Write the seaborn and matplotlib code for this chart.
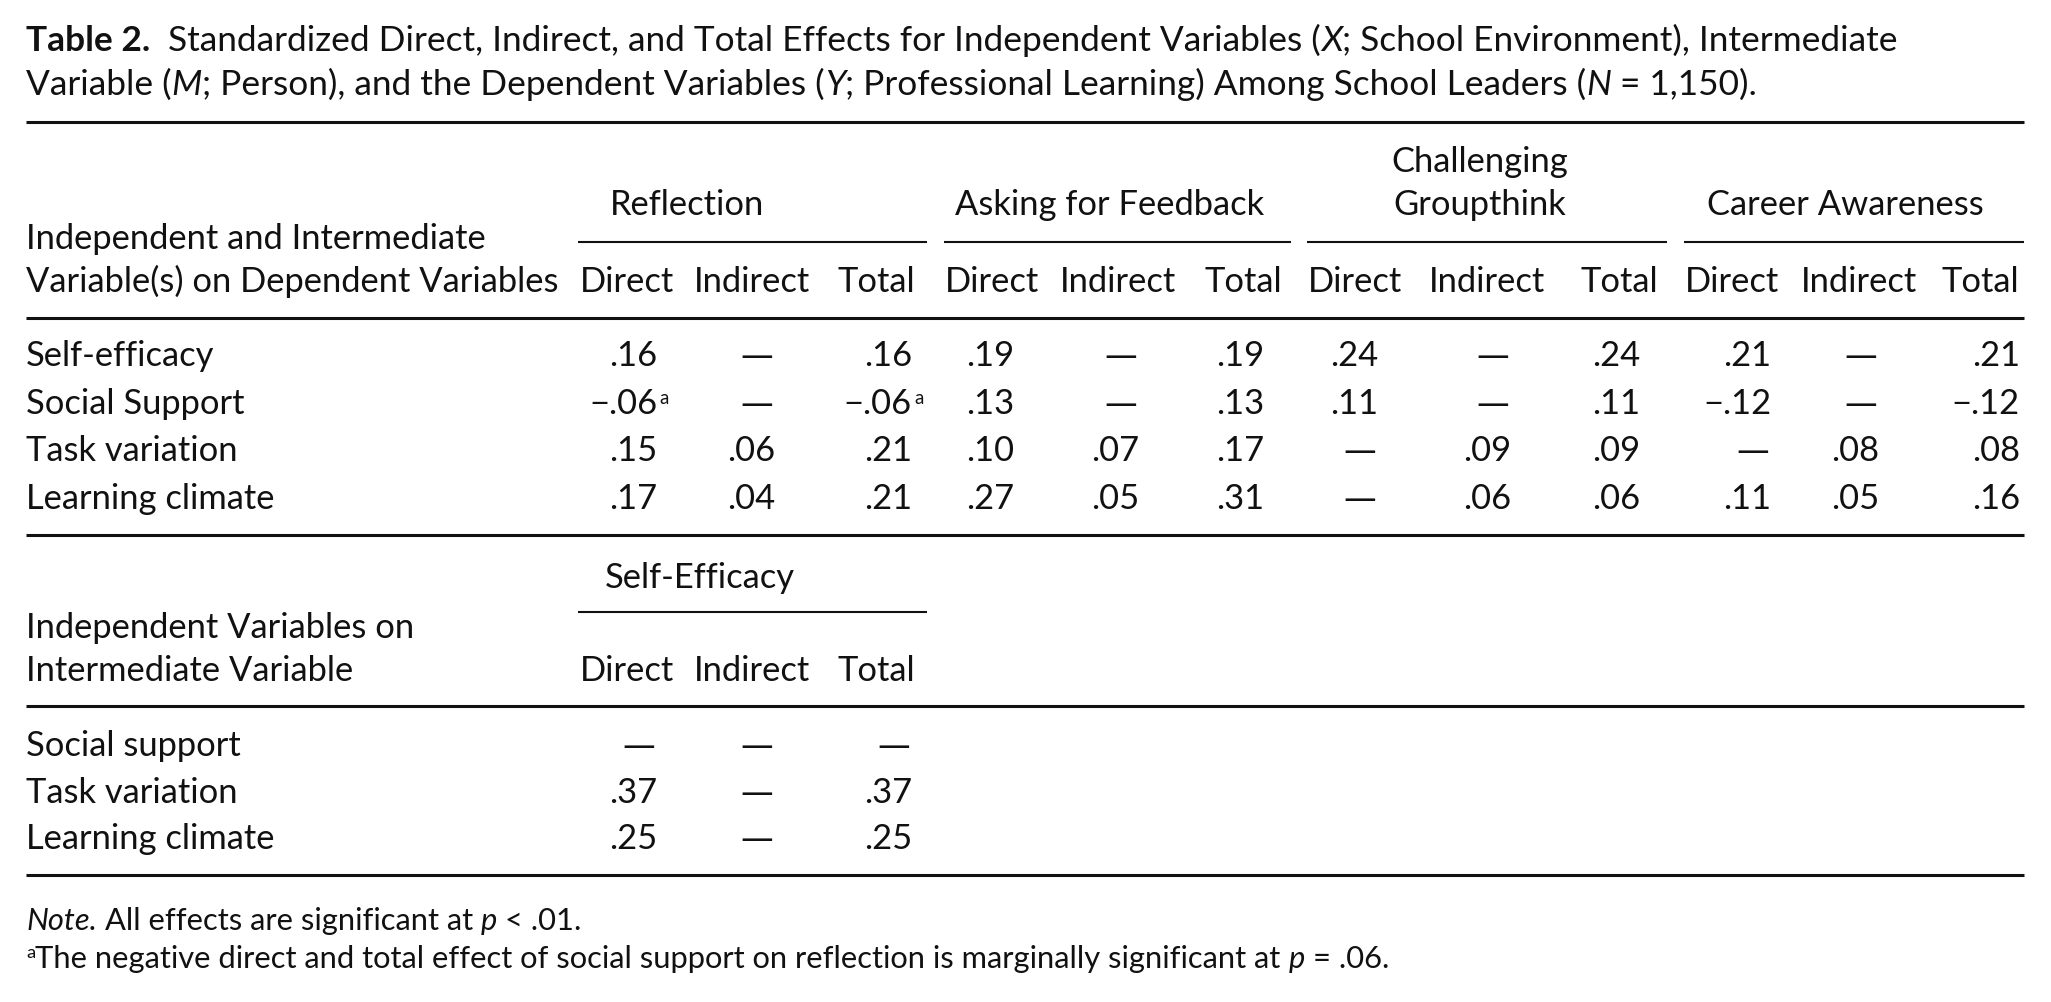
import matplotlib
matplotlib.use("Agg")
import matplotlib.pyplot as plt
import seaborn as sns

# ---- table content -------------------------------------------------------
groups = ["Reflection", "Asking for Feedback", "Challenging\nGroupthink", "Career Awareness"]
effects = ["Direct", "Indirect", "Total"]
row_labels = ["Self-efficacy", "Social Support", "Task variation", "Learning climate"]

reflection_direct = [.16, -.06, .15, .17]
reflection_indirect = [None, None, .06, .04]
reflection_total = [.16, -.06, .21, .21]
feedback_direct = [.19, .13, .10, .27]
feedback_indirect = [None, None, .07, .05]
feedback_total = [.19, .13, .17, .31]
groupthink_direct = [.24, .11, None, None]
groupthink_indirect = [None, None, .09, .06]
groupthink_total = [.24, .11, .09, .06]
career_direct = [.21, -.12, None, .11]
career_indirect = [None, None, .08, .05]
career_total = [.21, -.12, .08, .16]

# cells flagged with footnote a (row, group)
marginal = [("Social Support", "Reflection")]

mediator = "Self-Efficacy"
mediator_rows = ["Social support", "Task variation", "Learning climate"]
selfeff_direct = [None, .37, .25]
selfeff_indirect = [None, None, None]
selfeff_total = [None, .37, .25]

# ---- layout (pixels from top-left) --------------------------------------
W, H = 2051, 1002
LEFT, RIGHT = 26, 2024
INK = "#111111"
FS = 24.8
FS_TITLE = 25.4
FS_NOTE = 22.2

group_span = [(578, 927), (944, 1291), (1307, 1667), (1684, 2024)]
group_center = [687, 1110, 1480, 1845]
head_center = [[627, 752, 876], [992, 1118, 1243], [1355, 1487, 1619], [1732, 1859, 1980]]
value_right = [[657, 775, 912], [1014, 1139, 1264], [1378, 1511, 1640], [1771, 1879, 2020]]
row_base = [366, 414, 461, 509]
med_row_base = [756, 803, 849]

sns.set_theme(style="white")
plt.rcParams["font.family"] = ["Lato", "DejaVu Sans"]
plt.rcParams["text.color"] = INK

fig = plt.figure(figsize=(W / 100, H / 100), dpi=100)
fig.patch.set_facecolor("white")
ax = fig.add_axes([0, 0, 1, 1])
ax.set_xlim(0, W)
ax.set_ylim(H, 0)
ax.axis("off")
renderer = fig.canvas.get_renderer()


def txt(x, y, s, size=FS, **kw):
    return ax.text(x, y, s, fontsize=size, va="baseline", color=INK, **kw)


def width(t):
    return t.get_window_extent(renderer=renderer).width


def rich(x, y, parts, size=FS):
    probe = txt(0, 0, "a a", size)
    probe2 = txt(0, 0, "aa", size)
    gap = width(probe) - width(probe2)
    probe.remove()
    probe2.remove()
    for s, style in parts:
        if s == " ":
            x += gap
            continue
        kw = {}
        dy = 0
        sz = size
        if style == "b":
            kw["fontweight"] = "bold"
        elif style == "i":
            kw["fontstyle"] = "italic"
        elif style == "sup":
            sz = size * 0.6
            dy = -size * 0.45
        t = txt(x, y + dy, s, sz, **kw)
        x += width(t)


def hrule(y, x0=LEFT, x1=RIGHT, lw=2.2):
    ax.plot([x0, x1], [y, y], color=INK, lw=lw, solid_capstyle="butt")


def fmt(v):
    s = f"{abs(v):.2f}".lstrip("0")
    return ("\u2212" + s) if v < 0 else s


def cell(xr, y, v):
    if v is None:
        # empty cell: long dash, right aligned like the digits
        txt(xr - 2, y, "\u2014", FS * 0.95, ha="right", family="DejaVu Sans")
    else:
        txt(xr, y, fmt(v), ha="right")


# ---- title --------------------------------------------------------------
rich(LEFT, 51, [("Table 2.", "b"), (" ", ""), (" ", ""),
                ("Standardized Direct, Indirect, and Total Effects for Independent Variables (", ""),
                ("X", "i"), ("; School Environment), Intermediate", "")], FS_TITLE)
rich(LEFT, 95, [("Variable (", ""), ("M", "i"),
                ("; Person), and the Dependent Variables (", ""), ("Y", "i"),
                ("; Professional Learning) Among School Leaders (", ""), ("N", "i"),
                (" ", ""), ("= 1,150).", "")], FS_TITLE)

hrule(122)

# ---- first block header -------------------------------------------------
txt(LEFT, 249, "Independent and Intermediate")
txt(LEFT, 292, "Variable(s) on Dependent Variables")
for g, name in enumerate(groups):
    lines = name.split("\n")
    for k, line in enumerate(reversed(lines)):
        txt(group_center[g], 215 - 43 * k, line, ha="center")
    hrule(242, *group_span[g], lw=1.5)
    for j, e in enumerate(effects):
        txt(head_center[g][j], 292, e, ha="center")

hrule(318)

# ---- first block body ---------------------------------------------------
block = [
    [reflection_direct, reflection_indirect, reflection_total],
    [feedback_direct, feedback_indirect, feedback_total],
    [groupthink_direct, groupthink_indirect, groupthink_total],
    [career_direct, career_indirect, career_total],
]
for i, label in enumerate(row_labels):
    txt(LEFT, row_base[i], label)
    for g in range(len(groups)):
        for j in range(3):
            xr = value_right[g][j]
            cell(xr, row_base[i], block[g][j][i])
            flagged = (label, groups[g]) in marginal and j != 1
            if flagged:
                txt(xr + 2, row_base[i] - 10, "a", FS * 0.55)

hrule(535)

# ---- second block -------------------------------------------------------
txt(700, 588, mediator, ha="center")
hrule(612, *group_span[0], lw=1.5)
txt(LEFT, 638, "Independent Variables on")
txt(LEFT, 681, "Intermediate Variable")
for j, e in enumerate(effects):
    txt(head_center[0][j], 681, e, ha="center")

hrule(706)

med_block = [selfeff_direct, selfeff_indirect, selfeff_total]
for i, label in enumerate(mediator_rows):
    txt(LEFT, med_row_base[i], label)
    for j in range(3):
        cell(value_right[0][j], med_row_base[i], med_block[j][i])

hrule(875)

# ---- notes --------------------------------------------------------------
rich(LEFT, 930, [("Note.", "i"), (" ", ""), ("All effects are significant at", ""),
                 (" ", ""), ("p", "i"), (" ", ""), ("< .01.", "")], FS_NOTE)
rich(LEFT, 968, [("a", "sup"),
                 ("The negative direct and total effect of social support on reflection is marginally significant at", ""),
                 (" ", ""), ("p", "i"), (" ", ""), ("= .06.", "")], FS_NOTE)

fig.savefig("out.png", dpi=100, facecolor="white")
